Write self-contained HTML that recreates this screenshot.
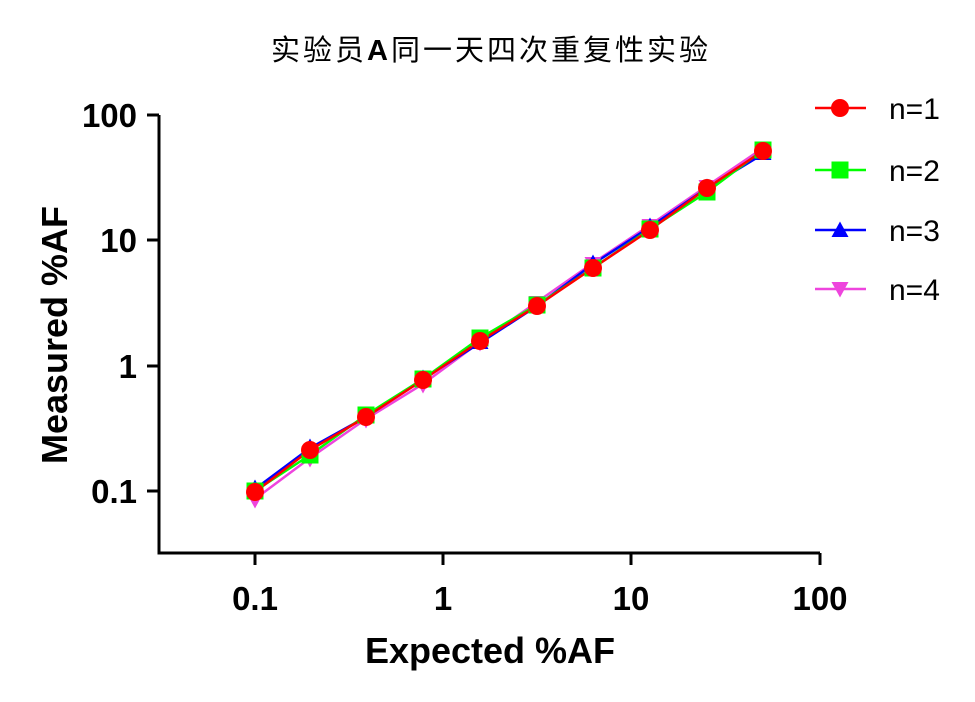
<!DOCTYPE html>
<html><head><meta charset="utf-8"><style>body{margin:0;background:#fff}svg{display:block}</style></head><body>
<svg width="975" height="702" xmlns="http://www.w3.org/2000/svg" font-family="Liberation Sans, Noto Sans CJK SC, sans-serif">
<defs>
<circle id="c" r="9" fill="#ff0000"/>
<rect id="s" x="-8.5" y="-8.5" width="17" height="17" fill="#00ff00"/>
<polygon id="t" points="0,-9.5 8.5,6 -8.5,6" fill="#0000ff"/>
<polygon id="v" points="0,9.5 8.5,-6 -8.5,-6" fill="#ee44dd"/>
</defs>
<text x="491" y="60" font-size="29" text-anchor="middle" letter-spacing="3">实验员<tspan font-weight="bold" font-family="Liberation Sans">A</tspan>同一天四次重复性实验</text>
<g stroke="#000" stroke-width="3" fill="none">
<path d="M159,115V553H820"/>
<path d="M147,115H159M147,240H159M147,366H159M147,491H159"/>
<path d="M255,553V565M443,553V565M631,553V565M820,553V565"/>
</g>
<g font-size="33" font-weight="bold" text-anchor="end">
<text x="137" y="127">100</text><text x="137" y="252">10</text><text x="137" y="378">1</text><text x="137" y="503">0.1</text>
</g>
<g font-size="33" font-weight="bold" text-anchor="middle">
<text x="255" y="610">0.1</text><text x="443" y="610">1</text><text x="631" y="610">10</text><text x="820" y="610">100</text>
</g>
<text x="490" y="663" font-size="36" font-weight="bold" text-anchor="middle">Expected %AF</text>
<text transform="translate(67,335) rotate(-90)" font-size="36" font-weight="bold" text-anchor="middle">Measured %AF</text>
<polyline fill="none" stroke="#ee44dd" stroke-width="2.5" points="255,499 310,458 366,419 423,384 480,342 537,302 593,263 650,225 707,186 763,148"/>
<polyline fill="none" stroke="#0000ff" stroke-width="2.5" points="255,489 310,448 366,417 423,379 480,343 537,306 593,264 650,227 707,188 763,154"/>
<polyline fill="none" stroke="#00ff00" stroke-width="2.5" points="255,491 310,455 366,415 423,379 480,338 537,305 593,268 650,229 707,192 763,150"/>
<polyline fill="none" stroke="#ff0000" stroke-width="2.5" points="255,492 310,450 366,417 423,380 480,341 537,306 593,268 650,230 707,188 763,151"/>
<g>
<use href="#v" x="255" y="499"/><use href="#v" x="310" y="458"/><use href="#v" x="366" y="419"/><use href="#v" x="423" y="384"/><use href="#v" x="480" y="342"/><use href="#v" x="537" y="302"/><use href="#v" x="593" y="263"/><use href="#v" x="650" y="225"/><use href="#v" x="707" y="186"/><use href="#v" x="763" y="148"/>
<use href="#t" x="255" y="489"/><use href="#t" x="310" y="448"/><use href="#t" x="366" y="417"/><use href="#t" x="423" y="379"/><use href="#t" x="480" y="343"/><use href="#t" x="537" y="306"/><use href="#t" x="593" y="264"/><use href="#t" x="650" y="227"/><use href="#t" x="707" y="188"/><use href="#t" x="763" y="154"/>
<use href="#s" x="255" y="491"/><use href="#s" x="310" y="455"/><use href="#s" x="366" y="415"/><use href="#s" x="423" y="379"/><use href="#s" x="480" y="338"/><use href="#s" x="537" y="305"/><use href="#s" x="593" y="268"/><use href="#s" x="650" y="229"/><use href="#s" x="707" y="192"/><use href="#s" x="763" y="150"/>
<use href="#c" x="255" y="492"/><use href="#c" x="310" y="450"/><use href="#c" x="366" y="417"/><use href="#c" x="423" y="380"/><use href="#c" x="480" y="341"/><use href="#c" x="537" y="306"/><use href="#c" x="593" y="268"/><use href="#c" x="650" y="230"/><use href="#c" x="707" y="188"/><use href="#c" x="763" y="151"/>
</g>
<g stroke-width="2.5">
<line x1="815" y1="108" x2="866" y2="108" stroke="#ff0000"/><use href="#c" x="840" y="108"/>
<line x1="815" y1="170" x2="866" y2="170" stroke="#00ff00"/><use href="#s" x="840" y="170"/>
<line x1="815" y1="230" x2="866" y2="230" stroke="#0000ff"/><use href="#t" x="840" y="231"/>
<line x1="815" y1="289" x2="866" y2="289" stroke="#ee44dd"/><use href="#v" x="840" y="288"/>
</g>
<g font-size="30">
<text x="889" y="119">n=1</text><text x="889" y="181">n=2</text><text x="889" y="241">n=3</text><text x="889" y="300">n=4</text>
</g>
</svg>
</body></html>
